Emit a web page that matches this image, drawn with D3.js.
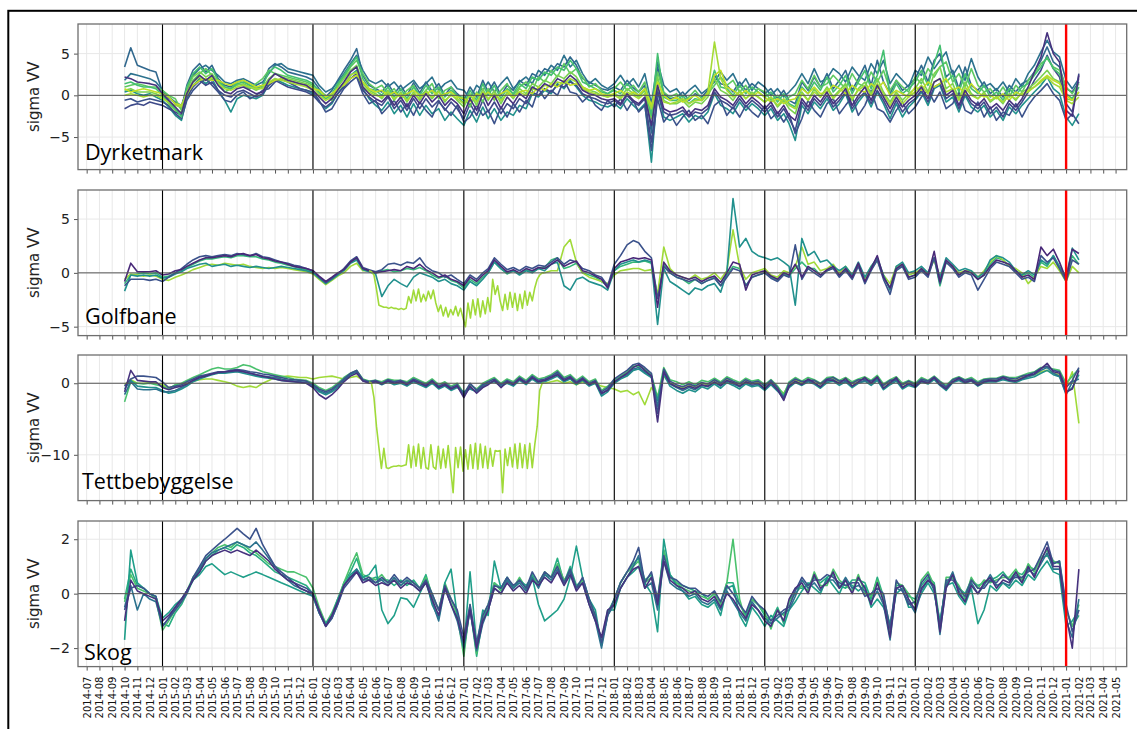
<!DOCTYPE html>
<html><head><meta charset="utf-8">
<script src="https://cdn.jsdelivr.net/npm/d3@7"></script>
<style>body{margin:0;background:#fff}svg{display:block}</style>
</head><body>
<svg id="chart" width="1137" height="729"></svg>
<script>
// ---------- DATA ----------
// sample dates: 1st and 16th of each month, 2014-10-01 .. 2021-02-01 (153 samples)
const sampleDates = [];
d3.utcMonth.range(new Date(Date.UTC(2014,9,1)), new Date(Date.UTC(2021,1,1))).forEach(m => {
  sampleDates.push(m, d3.utcDay.offset(m, 15));
});
sampleDates.push(new Date(Date.UTC(2021,1,1)));

const panelNames = ["Dyrketmark","Golfbane","Tettbebyggelse","Skog"];
const yTickValues = [[-5,0,5],[-5,0,5],[-10,0],[-2,0,2]];
const yDomains = [[-8.9,8.55],[-5.83,7.7],[-16.4,3.95],[-2.68,2.67]];
const yearLineDates = ["2015-01-01","2016-01-01","2017-01-01","2018-01-01","2019-01-01","2020-01-01"];
const redLineDate = "2021-01-01";

// Dyrketmark
const dyrA = [3.4,5.7,3.6,3.3,3.0,2.8,
 0.4,-0.3,-1.0,-1.6,1.2,3.0,3.8,2.8,3.6,2.0,1.2,1.0,1.6,1.8,1.2,0.8,1.2,3.2,3.8,3.4,2.8,2.6,2.4,2.2,
 1.8,0.8,-0.2,0.6,1.8,3.0,4.2,5.6,2.4,1.2,0.8,0.4,1.4,0.2,1.2,0.0,1.5,0.3,1.6,0.5,1.4,0.0,1.0,0.2,
 -0.6,1.0,-0.2,1.8,0.4,1.6,0.0,1.2,0.6,1.8,1.2,2.6,2.2,3.2,2.8,3.8,3.4,4.6,3.6,2.0,1.6,1.2,0.8,0.6,
 1.0,0.6,1.8,0.9,0.4,1.2,-4.5,3.4,0.2,-0.4,-0.2,0.4,-0.6,0.2,-0.2,0.6,2.4,1.4,1.2,0.4,1.6,0.6,1.4,0.8,
 0.2,0.8,-0.4,0.6,-0.6,-1.0,1.6,0.6,2.2,1.0,2.6,0.8,1.8,3.0,0.6,2.0,3.6,1.2,4.2,1.6,0.2,1.8,0.6,1.2,
 2.0,3.6,1.6,4.2,5.0,2.2,3.0,0.8,3.4,1.2,0.6,1.6,0.2,0.8,-0.2,1.2,0.4,1.4,1.8,2.8,4.2,5.8,4.0,3.4,
 0.8,0.4,1.6];
const dyrB = [2.2,2.0,1.6,1.5,1.4,1.2,
 0.2,-0.6,-1.4,-2.2,0.2,1.6,2.4,1.8,2.4,1.2,0.4,0.2,0.8,1.0,0.6,0.2,0.4,1.8,2.6,2.2,1.8,1.6,1.4,1.2,
 0.6,-0.2,-1.0,-0.4,0.6,1.6,2.8,3.4,1.0,0.2,-0.4,-0.8,0.0,-1.2,-0.2,-1.4,0.0,-1.0,0.2,-0.8,0.0,-1.2,-0.4,-1.0,
 -2.2,-0.4,-1.8,0.2,-1.2,0.0,-1.6,-0.2,-1.0,0.2,-0.4,1.0,0.6,1.4,1.0,2.0,1.6,2.4,1.8,0.6,0.2,0.0,-0.4,-0.6,
 -0.4,-1.0,0.2,-0.6,-1.0,-0.2,-3.6,1.2,-1.6,-2.0,-1.8,-1.4,-2.4,-1.6,-1.8,-1.2,0.8,-0.2,-0.6,-1.2,0.0,-1.0,-0.2,-0.8,
 -1.6,-0.8,-2.2,-1.2,-2.4,-3.0,-0.4,-1.4,0.0,-0.8,0.4,-1.0,-0.2,0.8,-1.2,0.0,1.0,-0.6,1.2,-0.2,-1.6,-0.2,-1.4,-0.6,
 0.0,1.0,-0.4,1.6,2.0,0.0,0.6,-1.2,0.6,-0.6,-1.2,-0.4,-1.6,-1.0,-1.8,-0.6,-1.4,-0.4,1.0,2.8,4.6,7.5,5.0,4.0,
 -1.8,-2.5,2.4];
const dyrC = [0.4,0.6,0.2,0.0,0.2,-0.2,
 -0.6,-1.4,-2.4,-3.0,-0.4,1.2,2.0,1.4,2.0,0.6,-0.6,-2.0,-0.4,0.0,-0.2,-0.4,0.0,1.4,2.0,1.6,1.2,1.0,0.8,0.6,
 0.2,-0.8,-1.6,-1.0,0.2,1.2,2.4,3.0,0.8,-0.4,-1.2,-1.8,-0.8,-2.2,-1.2,-2.6,-1.0,-2.4,-1.2,-2.2,-1.6,-3.0,-2.0,-2.8,
 -3.6,-1.8,-3.2,-1.4,-2.8,-1.6,-3.0,-2.0,-2.4,-1.2,-1.6,0.2,-0.2,0.6,0.2,1.4,0.8,1.8,1.0,0.0,-0.6,-0.8,-1.2,-1.4,
 -1.0,-1.6,-0.4,-1.2,-1.8,-1.0,-8.0,0.6,-2.6,-3.0,-2.6,-2.2,-3.2,-2.4,-2.8,-2.0,0.2,-1.2,-1.6,-2.2,-0.8,-1.8,-1.0,-1.6,
 -2.4,-1.6,-3.0,-2.2,-3.4,-5.4,-1.2,-2.2,-0.8,-1.6,-0.4,-1.8,-1.0,0.2,-2.0,-0.8,0.2,-1.4,0.4,-1.0,-2.8,-1.0,-2.6,-1.4,
 -0.6,0.4,-1.2,0.8,1.2,-0.8,-0.2,-2.0,0.0,-1.4,-2.0,-1.2,-2.6,-1.8,-3.0,-1.4,-2.2,-1.2,-0.4,0.4,1.2,2.2,0.8,0.2,
 -2.6,-3.6,-2.2];
const dyrD = [1.4,1.6,1.2,1.0,1.0,0.8,
 0.0,-0.8,-1.6,-2.6,1.0,2.6,3.4,2.6,3.2,1.8,1.0,0.8,1.4,1.6,1.2,0.9,1.2,2.8,3.4,3.0,2.4,2.2,2.0,1.8,
 1.4,0.4,-0.4,0.2,1.4,2.4,3.6,4.6,2.0,0.8,0.6,0.0,1.0,-0.2,0.8,-0.4,1.0,0.0,1.2,0.2,1.0,-0.2,0.6,0.0,
 -1.0,0.6,-0.6,1.4,0.0,1.2,-0.4,0.8,0.2,1.4,0.8,2.2,1.8,2.8,2.4,3.4,3.0,4.2,3.2,1.6,1.2,0.8,0.4,0.2,
 0.6,0.2,1.4,0.6,0.0,0.8,-2.4,5.0,-0.2,-0.6,-0.6,0.0,-1.0,-0.4,-0.6,0.2,3.0,1.0,0.8,0.0,1.2,0.2,1.0,0.4,
 -0.2,0.4,-0.8,0.2,-1.0,-1.4,1.0,0.2,1.6,0.6,2.2,0.4,1.2,2.4,0.2,1.6,3.0,0.8,2.4,5.4,-0.2,1.4,0.2,0.8,
 1.6,3.0,1.2,3.8,6.0,1.6,2.4,0.4,2.6,0.8,0.2,1.2,-0.2,0.4,-0.6,0.8,0.0,1.0,1.4,2.4,3.4,4.6,3.2,2.6,
 0.2,-0.4,1.0];
const dyrE = [0.0,0.2,0.0,-0.2,0.0,0.0,
 -0.4,-0.8,-1.2,-1.4,0.4,1.6,2.2,1.8,2.2,1.4,0.8,0.6,1.0,1.2,1.0,0.8,0.8,1.6,2.0,1.8,1.6,1.4,1.2,1.0,
 0.6,0.0,-0.6,-0.2,0.6,1.4,2.4,2.8,1.0,0.4,0.0,-0.2,0.4,-0.4,0.2,-0.6,0.2,-0.4,0.4,-0.2,0.4,-0.6,0.0,-0.4,
 -1.0,0.0,-0.8,0.4,-0.4,0.2,-0.6,0.2,-0.2,0.4,0.0,0.8,0.6,1.2,1.0,1.6,1.4,2.0,1.6,0.8,0.4,0.2,0.0,-0.2,
 0.0,-0.4,0.4,0.0,-0.4,0.2,-1.6,1.0,-0.8,-1.0,-0.8,-0.4,-1.0,-0.6,-0.6,0.4,6.4,2.0,0.6,-0.2,0.4,-0.4,0.2,-0.2,
 -0.8,-0.2,-1.2,-0.4,-1.2,-1.6,0.2,-0.6,0.4,-0.2,0.8,-0.4,0.4,1.0,-0.4,0.6,1.2,0.0,1.4,0.2,-1.2,0.2,-1.0,-0.2,
 0.4,1.2,0.2,1.6,2.0,0.4,0.8,-0.6,1.0,0.0,-0.4,0.2,-0.6,-0.2,-0.8,0.0,-0.4,0.2,0.4,1.0,1.6,2.2,1.4,1.0,
 -0.6,-1.0,-0.2];
const dyrF = [-1.6,-1.2,-1.0,-1.2,-0.8,-1.0,
 -1.2,-1.6,-2.0,-2.4,-0.2,1.0,1.8,1.2,1.6,0.6,0.0,-0.2,0.4,0.6,0.2,-0.2,0.2,1.2,1.8,1.4,1.0,0.8,0.6,0.4,
 0.0,-0.8,-1.4,-0.8,0.2,1.0,2.0,2.6,0.6,-0.2,-0.8,-1.2,-0.2,-1.6,-0.6,-1.8,-0.4,-1.6,-0.4,-1.4,-0.6,-1.8,-0.8,-1.6,
 -2.8,-1.0,-2.4,-0.6,-2.0,-0.8,-2.2,-1.0,-1.6,-0.4,-1.0,0.4,0.0,0.8,0.4,1.2,1.0,1.6,1.2,0.2,-0.2,-0.4,-0.8,-1.0,
 -0.6,-1.2,0.0,-0.8,-1.2,-0.4,-5.6,0.4,-2.0,-2.4,-2.2,-1.8,-2.6,-2.0,-2.2,-1.6,0.4,-0.6,-1.0,-1.6,-0.4,-1.4,-0.6,-1.2,
 -2.0,-1.2,-2.6,-1.6,-2.8,-4.2,-0.8,-1.8,-0.4,-1.2,0.0,-1.4,-0.6,0.4,-1.6,-0.4,0.4,-1.0,0.6,-0.6,-2.2,-0.6,-2.0,-1.0,
 -0.4,0.6,-0.8,1.0,1.4,-0.4,0.2,-1.6,0.2,-1.0,-1.6,-0.8,-2.2,-1.4,-2.6,-1.0,-1.8,-0.8,0.4,1.8,3.0,4.8,3.2,2.2,
 -1.0,-2.0,2.6];
const dyrG = [0.6,0.8,0.4,0.4,0.4,0.2,
 -0.2,-1.0,-1.8,-2.0,0.8,2.2,2.8,2.2,2.6,1.6,1.0,0.8,1.2,1.4,1.0,0.6,1.0,2.0,2.6,2.2,2.0,1.8,1.6,1.4,
 1.0,0.2,-0.4,0.0,1.0,2.0,3.0,3.6,1.4,0.6,0.2,-0.4,0.6,-0.6,0.4,-0.8,0.4,-0.6,0.6,-0.4,0.6,-0.8,0.2,-0.6,
 -1.4,0.2,-1.2,0.8,-0.6,0.6,-1.0,0.4,-0.4,0.8,0.2,1.4,1.0,1.8,1.4,2.4,2.0,2.8,2.2,1.0,0.6,0.4,0.0,-0.2,
 0.2,-0.2,0.8,0.2,-0.2,0.6,-2.8,2.2,-0.6,-1.0,-1.0,-0.6,-1.4,-0.8,-1.0,-0.2,2.0,0.6,0.2,-0.6,0.6,-0.4,0.4,-0.2,
 -0.8,-0.2,-1.4,-0.6,-1.6,-2.2,0.4,-0.6,0.8,-0.2,1.0,-0.2,0.6,1.4,-0.6,0.8,1.6,0.2,2.0,0.4,-0.8,0.4,-0.6,0.2,
 0.8,2.0,0.4,2.6,3.4,0.8,1.4,-0.4,1.6,0.2,-0.4,0.4,-0.8,-0.2,-1.0,0.2,-0.6,0.4,0.8,1.4,2.2,3.0,2.0,1.6,
 -0.4,-0.6,0.4];
const dyrH = [1.8,2.6,2.4,2.2,2.0,1.6,
 0.6,-0.2,-0.8,-1.2,0.6,2.4,3.2,3.6,3.0,2.4,1.6,1.4,1.8,2.0,1.6,1.2,1.6,2.6,3.6,3.8,3.2,3.0,2.8,2.6,
 2.4,1.2,0.4,0.8,1.6,2.6,3.8,4.8,3.0,1.8,1.4,1.8,1.0,1.6,0.6,1.2,1.8,0.8,1.4,2.2,0.6,1.4,1.8,0.8,
 0.6,-0.4,1.2,0.6,1.6,0.4,1.4,2.2,0.8,1.6,2.2,1.4,3.0,2.4,3.6,3.0,4.8,3.4,4.2,2.6,1.4,2.0,1.2,0.8,
 1.4,2.4,1.2,2.0,1.0,2.6,-1.0,4.0,1.2,0.4,0.8,-0.2,0.6,1.2,0.2,0.8,1.6,2.8,1.8,2.6,1.0,2.0,0.6,1.6,
 1.0,0.0,0.8,-0.2,0.4,1.2,2.6,1.4,3.2,1.6,2.0,3.2,2.6,1.6,3.4,2.4,1.8,3.8,2.6,4.2,1.4,2.6,1.8,1.0,
 3.0,2.4,4.6,3.2,4.2,5.2,2.4,3.6,1.8,4.4,2.2,1.0,1.4,0.6,1.6,0.4,2.0,1.0,2.6,3.6,5.2,6.6,5.2,4.6,
 1.8,0.8,2.0];
const dyrI = [-0.6,-0.4,-0.8,-0.6,-0.4,-0.6,
 -0.8,-1.2,-2.2,-2.8,-0.6,0.6,1.4,2.0,1.2,0.4,-0.6,-0.8,0.0,0.4,-0.4,0.0,0.6,0.8,1.6,2.0,1.6,1.2,0.8,0.6,
 0.4,-0.6,-2.0,-1.6,-0.4,0.8,1.6,2.2,0.2,-1.0,-0.6,-2.2,-1.4,-0.6,-2.0,-1.0,-2.4,-0.8,-1.8,-2.6,-0.8,-1.6,-2.4,-1.2,
 -3.2,-2.6,-1.2,-2.4,-1.8,-3.4,-1.4,-2.6,-1.0,-2.0,-0.6,-1.4,0.8,-0.4,0.6,0.0,1.8,0.4,0.2,-0.8,0.0,-1.2,-1.8,-0.6,
 -1.4,-0.4,-1.8,-0.6,-2.0,-1.2,-6.6,-0.4,-3.2,-2.2,-3.6,-2.6,-1.8,-3.0,-2.4,-3.4,-1.2,-0.6,-2.4,-1.4,-2.6,-1.2,-2.0,-2.6,
 -1.2,-2.8,-2.0,-3.2,-2.2,-4.6,-2.8,-0.6,-1.8,-2.6,-1.0,-0.4,-2.2,-1.2,-0.2,-2.4,-1.2,0.6,-1.6,-2.0,-3.2,-1.8,-0.8,-2.2,
 -1.4,-0.2,0.6,-0.8,0.4,-1.6,-1.0,0.4,-1.8,-2.2,-0.8,-2.6,-1.4,-3.0,-2.0,-2.4,-1.0,-2.6,-1.2,-0.2,0.6,1.4,0.2,-0.6,
 -3.0,-2.2,-3.4];
const dyrJ = [0.8,0.4,0.6,0.8,0.6,0.4,
 0.2,-0.2,-1.0,-1.2,0.2,1.2,1.8,2.0,1.8,1.8,1.4,1.2,1.6,1.8,1.4,1.0,1.2,1.4,1.8,2.0,1.8,1.6,1.4,1.2,
 0.8,0.6,-0.2,0.2,0.8,1.2,2.0,2.4,1.6,0.8,0.4,0.6,0.0,0.4,-0.2,0.2,0.6,0.0,0.2,0.6,-0.2,0.2,0.4,-0.2,
 -0.4,-0.8,0.2,-0.2,0.4,-0.4,0.2,0.6,-0.2,0.4,0.6,0.2,1.0,0.6,1.4,1.0,1.8,1.2,1.4,1.0,0.6,0.8,0.2,0.0,
 0.2,0.6,0.0,0.4,0.0,0.8,-1.2,1.6,0.0,-0.6,-0.2,-0.8,-0.4,0.0,-0.6,0.2,2.4,3.0,1.0,0.6,0.0,0.6,-0.2,0.4,
 -0.2,-0.8,-0.4,-1.0,-0.6,-0.4,0.8,0.2,1.0,0.2,0.4,1.2,0.8,0.2,1.2,0.6,0.4,1.4,0.8,1.6,0.0,0.6,0.2,-0.2,
 1.0,0.6,1.6,1.0,1.4,2.0,0.6,1.0,0.2,1.4,0.4,-0.2,0.0,-0.4,0.2,-0.6,0.4,0.0,0.6,1.0,1.8,2.4,1.8,1.4,
 0.0,-0.6,0.4];
const dyrK = [1.0,1.2,1.4,1.2,1.0,1.0,
 0.6,0.0,-0.4,-1.8,0.0,1.8,2.6,3.2,2.4,1.6,0.4,0.8,1.4,1.2,0.8,1.4,2.0,3.0,2.6,2.4,2.2,2.0,1.8,1.6,
 1.2,0.6,0.0,-0.6,1.2,2.2,3.4,4.2,2.6,1.4,0.8,1.2,0.2,0.8,-0.4,0.6,1.2,-0.2,0.6,1.4,-0.4,0.6,1.0,-0.2,
 -0.2,-1.4,0.4,-0.8,0.8,-0.6,0.6,1.4,0.0,1.0,1.6,0.6,2.2,1.6,3.0,2.2,3.8,2.6,3.2,2.2,1.0,1.4,0.6,0.2,
 0.8,1.6,0.6,1.2,0.4,1.6,-1.8,2.8,0.4,-0.2,0.2,-0.6,-0.2,0.6,-0.4,0.2,1.2,2.2,1.2,1.8,0.4,1.2,0.0,0.8,
 0.4,-0.6,0.0,-0.8,-0.2,0.2,1.8,0.8,2.4,1.0,1.4,2.4,1.6,0.8,2.6,1.4,1.0,2.8,1.6,3.0,0.6,1.8,1.0,0.4,
 2.2,1.4,3.2,2.2,3.4,4.0,1.6,2.6,1.0,3.2,1.2,0.4,0.8,-0.2,1.0,-0.2,1.2,0.4,1.8,2.6,3.8,4.4,3.4,3.0,
 1.0,0.2,1.4];

// Golfbane
const golfA = [-0.8,0.9,0.1,0.1,0.1,0.2,
 -0.2,-0.1,0.2,0.3,0.6,0.9,1.2,1.4,1.4,1.5,1.6,1.5,1.7,1.8,1.6,1.7,1.4,1.3,1.1,1.0,0.8,0.6,0.5,0.4,
 0.2,-0.3,-0.8,-0.4,0.0,0.3,1.0,1.4,0.4,0.2,0.0,0.1,0.2,0.3,0.2,0.6,0.4,0.8,0.3,0.0,-0.4,-0.2,-0.6,-0.8,
 -1.2,-0.4,-0.8,-0.2,0.2,1.2,0.6,0.1,0.3,0.0,0.4,0.2,0.5,0.4,0.8,1.2,0.6,0.9,1.1,0.2,0.0,-0.3,-0.6,-1.4,
 0.4,1.0,1.2,1.4,1.3,1.4,1.2,-3.2,1.0,0.2,-0.2,-0.4,-0.6,-0.4,-0.8,-0.5,-0.3,-0.9,0.0,1.0,0.8,-1.6,-0.2,0.0,
 0.2,-0.3,-0.6,0.0,-0.2,0.8,-0.4,0.6,0.2,-0.2,0.3,0.6,-0.2,0.4,-0.4,0.9,-0.8,0.4,1.6,-0.4,-1.4,0.4,0.8,-0.4,
 -0.2,0.4,-0.2,2.0,-0.8,1.2,0.6,-0.2,0.2,0.0,-0.6,-0.2,0.6,1.2,1.0,0.8,0.2,-0.4,-0.2,-0.6,2.4,1.6,2.2,1.0,
 -0.6,2.2,1.8];
const golfB = [-1.2,-0.6,-0.6,-0.6,-0.7,-0.6,
 -0.8,-0.4,0.0,0.4,0.8,1.2,1.5,1.6,1.5,1.6,1.7,1.6,1.8,1.7,1.6,1.8,1.5,1.4,1.2,1.0,0.9,0.7,0.6,0.4,
 0.2,-0.4,-0.9,-0.5,-0.1,0.4,1.1,1.5,0.5,0.3,0.1,0.3,0.8,0.9,0.7,1.0,0.9,1.4,0.6,0.2,0.0,-0.4,-0.2,-0.6,
 -1.0,-0.2,-0.6,0.0,0.4,1.4,0.8,0.3,0.5,0.2,0.6,0.4,0.7,0.6,1.0,1.4,0.8,1.2,1.0,0.4,0.2,-0.2,-0.4,-1.2,
 0.8,1.6,2.6,3.0,2.8,2.0,1.4,-2.4,0.6,0.0,-0.4,-0.6,-0.8,-0.6,-1.0,-0.7,-0.5,-1.2,-0.4,0.4,0.2,-1.2,-0.4,-0.2,
 0.0,-0.5,-0.8,-0.2,-0.4,2.6,-0.6,0.4,0.0,-0.4,0.2,0.4,-0.4,0.2,-0.6,0.6,-1.0,0.2,1.2,-0.6,-2.0,0.2,0.6,-0.6,
 -0.4,0.2,-0.4,1.4,-1.0,1.0,0.4,-0.4,0.0,-0.2,-1.6,-0.6,0.4,1.0,0.8,0.6,0.0,-0.6,-0.4,-0.8,1.6,1.0,1.4,0.4,
 -0.8,1.2,0.8];
const golfC = [-1.7,-0.2,-0.3,-0.2,-0.3,-0.2,
 -0.5,-0.4,-0.1,0.1,0.4,0.6,0.8,0.9,0.6,0.7,0.8,0.6,0.7,0.6,0.5,0.6,0.5,0.4,0.5,0.6,0.5,0.4,0.3,0.2,
 0.0,-0.5,-1.0,-0.6,-0.2,0.2,0.9,1.2,0.3,0.1,-0.1,-2.2,-1.2,-0.6,-1.0,-1.3,-0.4,0.0,-0.2,-0.4,-0.8,-0.6,-1.0,-1.2,
 -1.6,-0.8,-1.2,-0.6,0.0,1.0,0.4,0.0,0.2,-0.2,0.2,0.0,0.4,0.2,0.8,1.0,-1.2,-1.6,-0.6,-0.4,-0.8,-1.0,-1.2,-1.6,
 0.2,0.8,1.0,1.2,1.0,1.2,1.0,-4.8,0.4,-0.8,-1.2,-1.6,-2.0,-1.4,-1.6,-1.2,-1.0,-1.8,0.0,6.9,2.4,3.2,2.0,1.6,
 1.4,1.2,1.4,1.0,0.6,-3.0,3.2,1.6,2.0,1.0,1.2,0.6,0.2,0.6,-0.2,1.0,-0.4,0.6,1.4,-0.2,-1.6,0.6,1.0,0.0,
 0.2,0.6,0.0,1.4,-0.4,1.4,0.8,0.2,0.4,0.2,-0.4,0.0,1.2,1.6,1.4,1.0,0.2,-0.2,0.2,-0.2,1.2,0.8,1.6,0.6,
 -0.4,2.3,1.2];
const golfD = [-0.6,-0.1,-0.2,-0.3,-0.2,-0.3,
 -0.6,-0.7,-0.4,-0.2,0.0,0.3,0.5,0.7,0.8,0.7,0.9,0.8,0.7,0.8,0.6,0.5,0.4,0.5,0.4,0.5,0.4,0.3,0.2,0.1,
 -0.1,-0.6,-1.1,-0.7,-0.3,0.0,0.6,0.9,0.2,0.2,null,null,null,null,null,null,null,null,null,null,null,null,null,null,
 null,null,null,null,null,null,null,null,null,null,null,null,null,0.0,0.2,0.2,2.4,3.1,1.0,0.0,-0.4,-0.6,-0.8,-1.0,
 -0.2,0.2,0.3,0.4,0.4,0.2,0.3,-2.0,2.4,0.4,-0.2,-0.4,-0.6,-0.2,-0.6,-0.4,0.0,-0.6,0.2,4.0,0.6,-0.6,0.0,0.2,
 0.4,-0.2,-0.4,0.2,0.0,0.6,2.4,0.8,1.0,0.2,0.4,0.8,0.0,0.6,-0.2,0.8,-0.6,0.6,1.2,-0.2,-1.0,0.6,0.8,-0.2,
 0.0,0.4,0.0,1.2,-0.4,1.0,0.6,0.0,0.2,0.2,-0.4,0.2,1.0,1.6,1.2,0.6,0.4,0.0,-1.0,-0.4,0.6,0.4,1.0,0.2,
 -0.8,0.6,0.0];
const golfE = [-1.0,-0.2,-0.1,0.0,-0.1,0.0,
 -0.4,-0.3,0.0,0.2,0.5,0.8,1.1,1.3,1.3,1.4,1.5,1.4,1.6,1.6,1.5,1.5,1.3,1.2,1.0,0.9,0.7,0.6,0.4,0.3,
 0.1,-0.4,-0.9,-0.5,-0.1,0.3,1.0,1.3,0.3,0.2,0.0,0.2,0.3,0.1,0.2,0.4,0.3,0.5,0.2,-0.2,-0.5,-0.3,-0.7,-0.9,
 -1.4,-0.6,-1.0,-0.4,0.0,1.0,0.4,-0.1,0.2,-0.1,0.3,0.1,0.4,0.5,1.2,1.4,0.4,0.6,0.9,0.0,-0.2,-0.4,-0.8,-1.2,
 0.2,0.6,0.8,1.0,1.0,1.1,0.9,-2.2,0.8,0.0,-0.4,-0.6,-1.0,-0.6,-1.0,-0.7,-0.4,-1.2,-0.2,0.6,0.4,-1.2,-0.4,-0.2,
 0.0,-0.4,-0.7,-0.1,-0.3,0.4,1.0,0.4,0.4,-0.2,0.2,0.5,-0.3,0.3,-0.5,0.8,-0.8,0.3,1.2,-0.4,-1.4,0.4,0.6,-0.4,
 -0.2,0.3,-0.2,1.4,-1.2,1.0,0.5,-0.2,0.1,0.0,-0.6,-0.2,0.8,1.4,1.2,0.6,0.2,-0.3,0.0,-0.4,1.0,0.6,1.6,0.4,
 -0.4,1.6,0.8];
// dense (6-day) samples of the outlier parcels, 2016-05-16 .. 2017-07-16
const golfDipValues = [0.2,0.1,-0.2,-1.5,-3.0,-3.1,-3.2,-3.2,-3.3,-3.2,-3.3,-3.3,-3.4,-3.3,-3.4,-3.3,
 -2.2,-2.8,-1.6,-2.6,-1.5,-2.7,-2.0,-2.6,-1.7,-2.4,-1.6,-2.8,-3.6,-3.0,-4.0,-3.2,-4.1,-3.4,-3.9,-3.1,-4.0,-3.3,-4.2,
 -5.0,-2.8,-4.2,-2.5,-3.9,-2.4,-4.1,-2.6,-3.8,-2.3,-3.6,-0.6,-2.0,-1.2,-2.6,-3.5,-2.0,-3.4,-1.8,-3.2,-1.9,-3.5,-2.0,
 -3.3,-1.7,-3.0,-1.8,-2.6,-1.4,-0.6,-0.2,0.0,0.0];

// Tettbebyggelse
const tettA = [-1.2,1.8,0.4,0.3,0.2,0.2,
 -0.6,-0.9,-0.6,-0.4,-0.1,0.4,0.8,1.0,1.3,1.5,1.6,1.7,1.8,1.6,1.4,1.2,1.0,0.8,0.6,0.4,0.3,0.2,0.1,0.0,
 -0.6,-1.6,-2.2,-1.6,-0.8,0.2,1.0,1.4,0.3,0.0,0.2,-0.1,0.3,0.0,0.2,-0.2,0.4,0.0,-0.4,0.3,-0.6,-0.2,-0.8,-0.4,
 -2.0,-0.4,-1.4,-0.6,-0.2,0.4,-0.6,0.2,-0.2,0.6,0.0,0.8,0.2,0.4,0.8,1.2,0.4,0.8,0.0,0.6,-0.2,0.2,-1.4,-1.0,
 0.2,0.8,1.4,2.2,2.6,1.8,1.0,-5.4,1.6,0.0,-0.5,-0.8,-0.4,-0.7,-0.2,-0.4,0.2,-0.3,0.4,0.1,-0.4,0.2,-0.1,0.0,
 -0.8,0.1,-0.9,-2.4,-0.4,0.3,-0.2,0.6,0.1,-0.5,0.5,0.4,0.0,0.7,-0.4,0.2,0.8,0.0,0.9,-0.7,0.1,0.8,-0.6,0.0,
 -0.5,0.3,0.0,0.8,-0.2,-0.8,0.2,0.7,0.1,0.4,-0.3,0.2,0.4,0.3,0.8,0.4,0.3,0.7,1.1,1.3,2.0,2.8,1.6,1.4,
 -1.2,-0.8,1.8];
const tettB = [-0.4,0.6,1.0,1.0,0.9,0.8,
 0.2,-0.6,-0.4,-0.2,0.2,0.6,1.0,1.2,1.4,1.6,1.6,1.8,1.9,1.8,1.6,1.5,1.3,1.2,1.0,0.8,0.6,0.5,0.4,0.3,
 -0.2,-0.8,-1.2,-0.8,-0.2,0.6,1.4,1.8,0.5,0.2,0.4,0.0,0.5,0.2,0.4,0.0,0.6,0.2,-0.2,0.4,-0.4,0.0,-0.6,-0.2,
 -1.6,0.0,-1.0,-0.2,0.2,0.6,-0.2,0.4,0.0,0.8,0.2,1.0,0.4,0.6,1.0,1.6,0.6,1.0,0.2,0.8,0.0,0.4,-1.2,-0.6,
 0.6,1.2,1.8,2.6,2.8,2.2,1.4,-4.2,2.0,0.3,-0.2,-0.5,-0.1,-0.4,0.1,-0.1,0.5,0.0,0.7,0.3,-0.1,0.5,0.1,0.3,
 -0.4,0.4,-0.6,-2.1,0.0,0.6,0.2,0.4,0.4,-0.1,0.6,0.8,0.3,0.4,0.0,0.5,0.5,0.3,0.8,-0.3,0.4,0.5,-0.2,0.3,
 -0.2,0.6,0.3,0.9,0.2,-0.5,0.5,0.8,0.4,0.6,0.0,0.5,0.6,0.6,0.9,0.7,0.6,1.0,1.2,1.5,2.1,2.4,1.8,1.6,
 -0.6,0.4,2.2];
const tettC = [-0.8,0.4,-0.4,-0.5,-0.6,-0.6,
 -1.0,-1.4,-1.2,-0.8,-0.4,0.2,0.6,0.9,1.2,1.4,1.4,1.5,1.6,1.4,1.2,1.0,0.8,0.7,0.6,0.4,0.3,0.2,0.1,0.0,
 -0.4,-1.2,-1.6,-1.2,-0.6,0.4,1.2,1.6,0.4,0.1,0.2,-0.2,0.2,-0.2,0.0,-0.4,0.2,-0.2,-0.6,0.0,-0.8,-0.4,-1.0,-0.6,
 -1.2,-0.8,-1.2,-0.4,0.0,0.2,-0.4,0.0,-0.4,0.4,-0.2,0.6,0.0,0.2,0.6,1.0,0.2,0.6,-0.2,0.4,-0.4,0.0,-1.8,-1.2,
 0.0,0.6,1.0,1.8,2.0,1.4,0.8,-2.4,1.2,-0.4,-1.0,-1.4,-0.9,-1.2,-0.5,-0.8,-0.1,-0.7,0.1,-0.3,-0.8,-0.1,-0.5,-0.3,
 -1.0,-0.2,-1.1,-1.8,-0.6,0.1,-0.3,0.2,-0.1,-0.7,0.1,0.3,-0.3,0.2,-0.6,0.0,0.3,-0.3,0.4,-0.9,-0.2,0.3,-0.8,-0.3,
 -0.6,0.2,-0.1,0.5,-0.3,-1.0,0.1,0.4,0.0,0.3,-0.4,0.1,0.2,0.2,0.5,0.3,0.1,0.5,0.7,0.9,1.4,1.8,1.2,0.9,
 -1.4,-0.6,1.2];
const tettD = [-2.6,0.2,0.0,-0.1,0.0,-0.2,
 -0.4,-0.8,-0.2,0.0,0.4,0.8,1.2,1.6,2.0,2.2,2.0,2.0,2.2,2.6,2.4,2.0,1.6,1.4,1.2,1.0,0.8,0.6,0.5,0.4,
 0.0,-0.6,-1.0,-0.6,0.0,0.8,1.4,1.8,0.6,0.3,0.4,0.2,0.6,0.4,0.4,0.2,0.8,0.4,0.0,0.6,-0.2,0.2,-0.4,0.0,
 -1.4,-0.2,-0.8,0.0,0.4,0.8,0.0,0.6,0.2,1.0,0.4,1.2,0.6,0.8,1.2,1.8,0.8,1.2,0.4,1.0,0.2,0.6,-1.0,-0.4,
 0.4,1.0,1.6,2.4,2.4,2.0,1.2,-2.0,2.2,0.5,0.2,-0.2,0.2,-0.2,0.4,0.2,0.7,0.2,0.9,0.5,0.1,0.7,0.3,0.5,
 -0.2,0.5,-0.4,-1.6,0.2,0.8,0.3,0.8,0.5,0.0,0.8,0.9,0.4,0.8,0.2,0.6,0.9,0.4,1.1,-0.1,0.5,0.9,0.0,0.4,
 0.0,0.8,0.4,1.0,0.3,-0.3,0.6,0.9,0.5,0.8,0.2,0.6,0.7,0.7,1.0,0.8,0.8,1.1,1.4,1.6,2.2,2.2,2.0,1.8,
 0.0,1.0,2.0];
const tettE = [-0.2,0.5,0.0,0.0,0.1,0.0,
 -0.2,-0.6,-0.4,-0.2,0.0,0.3,0.5,0.6,0.6,0.4,0.2,0.0,-0.4,-0.6,-0.4,-0.6,0.0,0.4,0.8,0.9,1.0,0.9,0.8,0.8,
 0.6,0.8,0.9,1.0,0.8,0.6,0.8,1.0,0.4,0.2,null,null,null,null,null,null,null,null,null,null,null,null,null,null,
 null,null,null,null,null,null,null,null,null,null,null,null,null,0.0,0.2,0.4,0.0,0.2,-0.2,0.2,-0.2,0.0,-0.4,-0.6,
 -0.8,-1.2,-1.0,-1.6,-1.2,-3.0,-0.6,-1.8,1.0,0.0,-0.3,-0.6,-0.2,-0.5,0.0,-0.2,0.4,-0.1,0.5,0.2,-0.3,0.3,0.0,0.1,
 -0.6,0.3,-0.7,-1.4,-0.2,0.5,0.0,0.5,0.3,-0.2,0.6,0.7,0.2,0.6,-0.1,0.4,0.7,0.2,1.0,-0.4,0.3,0.7,-0.3,0.2,
 -0.3,0.5,0.1,0.8,0.0,-0.6,0.3,0.6,0.2,0.5,-0.1,0.3,0.5,0.4,0.7,0.5,0.4,0.8,1.0,1.2,1.6,1.8,1.4,1.2,
 -0.6,1.6,-5.6];
const tettDipValues = [0.2,0.0,-2.0,-6.0,-9.0,-11.9,-9.1,-11.8,-11.9,-11.7,-11.6,-11.6,-11.5,-11.6,-11.5,-11.4,
 -8.6,-11.8,-8.8,-11.6,-8.5,-11.9,-9.0,-11.8,-12.0,-8.6,-11.7,-12.0,-8.8,-11.9,-9.2,-11.8,-8.7,-12.0,-15.3,-9.0,-11.8,-8.9,-12.3,
 -9.3,-12.0,-8.6,-11.9,-8.4,-12.0,-8.5,-11.8,-8.8,-11.9,-9.1,-11.6,-9.4,-9.5,-9.4,-15.3,-9.2,-11.5,-9.0,-11.7,-8.5,-11.9,-8.4,
 -11.8,-8.6,-11.9,-8.4,-11.8,-8.6,-6.0,-1.0,0.0,0.0];
const tettF = [-1.6,0.2,-0.8,-0.9,-0.9,-0.8,
 -1.2,-1.2,-1.0,-0.6,-0.2,0.4,0.8,1.1,1.3,1.5,1.5,1.6,1.7,1.6,1.4,1.2,1.0,0.9,0.8,0.6,0.4,0.3,0.2,0.1,
 -0.3,-1.0,-1.4,-1.0,-0.4,0.5,1.3,1.7,0.4,0.1,0.3,-0.1,0.4,0.0,0.2,-0.2,0.4,0.0,-0.4,0.2,-0.6,-0.2,-0.8,-0.4,
 -1.8,-0.6,-1.2,-0.4,0.0,0.4,-0.2,0.2,-0.2,0.6,0.0,0.8,0.2,0.4,0.8,1.4,0.4,0.8,0.0,0.6,-0.2,0.2,-1.6,-0.8,
 0.2,0.8,1.2,2.0,2.2,1.6,1.0,-3.2,1.6,-0.1,-0.6,-1.0,-0.6,-0.9,-0.3,-0.5,0.1,-0.4,0.3,-0.1,-0.5,0.1,-0.3,-0.1,
 -0.7,0.0,-1.0,-2.2,-0.4,0.2,-0.1,0.3,0.0,-0.5,0.3,0.5,-0.1,0.3,-0.4,0.1,0.4,-0.1,0.6,-0.7,0.0,0.5,-0.6,-0.1,
 -0.4,0.4,0.1,0.7,-0.1,-0.7,0.2,0.5,0.2,0.4,-0.2,0.3,0.3,0.4,0.6,0.5,0.3,0.6,0.9,1.2,1.8,2.2,1.4,1.0,
 -1.6,0.2,0.6];

// Skog
const skogA = [-1.0,0.5,0.1,0.0,-0.1,-0.2,
 -1.0,-0.8,-0.5,-0.2,0.1,0.5,0.8,1.2,1.4,1.5,1.6,1.5,1.6,1.5,1.4,1.6,1.4,1.2,0.9,0.7,0.5,0.4,0.2,0.1,
 0.0,-0.6,-1.2,-0.8,-0.3,0.3,0.6,0.8,0.4,0.5,0.3,0.4,0.3,0.5,0.2,0.4,0.3,0.1,0.4,-0.2,-0.8,0.2,-0.4,-0.9,
 -1.8,-0.6,-2.0,-1.0,-0.6,0.2,0.0,0.4,0.1,0.3,0.0,0.5,0.3,0.6,0.4,0.8,0.3,0.7,0.1,0.4,-0.4,-1.0,-1.6,-0.6,
 -0.4,0.2,0.6,0.9,1.0,0.2,0.6,-0.4,1.2,0.5,0.3,0.2,0.0,0.1,-0.2,-0.3,-0.1,-0.5,0.0,-0.2,-0.6,-0.9,-0.4,-0.6,
 -1.0,-1.2,-0.6,-1.0,-0.2,0.2,0.4,0.0,0.7,0.2,0.4,0.8,0.2,0.5,0.0,0.6,0.2,-0.4,0.4,-0.3,-1.6,0.2,0.3,-0.2,
 -0.6,0.2,0.5,0.3,-1.4,0.2,0.7,0.0,-0.3,0.3,0.0,0.4,0.6,0.2,0.5,0.4,0.8,0.4,1.0,0.6,1.2,1.7,1.0,1.0,
 -0.8,-2.0,0.9];
const skogB = [-0.6,0.2,0.3,0.2,0.0,-0.1,
 -1.2,-0.9,-0.6,-0.3,0.0,0.6,1.0,1.4,1.6,1.8,2.0,2.2,2.4,2.2,2.0,2.4,1.8,1.4,1.0,0.8,0.6,0.4,0.3,0.2,
 0.0,-0.7,-1.2,-0.9,-0.4,0.2,0.5,0.8,0.5,0.6,0.4,0.6,0.4,0.7,0.4,0.6,0.4,0.2,0.5,0.0,-0.6,0.3,-0.2,-0.6,
 -1.6,-0.4,-1.8,-0.8,-0.4,0.3,0.2,0.6,0.3,0.5,0.2,0.8,0.4,0.8,0.6,1.0,0.4,0.9,0.2,0.6,-0.2,-0.8,-1.8,-0.8,
 -0.2,0.4,0.8,1.2,1.7,0.4,0.8,-0.2,1.4,0.6,0.5,0.3,0.2,0.2,0.0,-0.1,0.1,-0.3,0.3,0.0,-0.4,-0.7,-0.1,-0.4,
 -0.6,-1.0,-0.8,-0.6,-0.5,0.1,0.6,0.3,0.5,0.5,0.7,0.6,0.4,0.3,0.4,0.4,-0.1,0.0,0.2,0.0,-1.3,0.5,0.1,-0.4,
 -0.3,0.4,0.7,0.1,-1.2,0.5,0.5,0.2,-0.1,0.5,0.2,0.2,0.5,0.4,0.7,0.5,0.6,0.6,0.8,0.9,1.4,1.9,1.1,1.2,
 -0.4,-1.4,-0.6];
const skogC = [-1.7,1.6,0.4,0.2,0.0,-0.1,
 -0.9,-0.7,-0.4,-0.2,0.1,0.5,0.7,1.0,1.1,0.9,0.7,0.8,0.7,0.6,0.7,0.8,0.7,0.6,0.5,0.4,0.3,0.2,0.1,0.0,
 -0.1,-0.7,-1.1,-0.8,-0.2,0.3,0.7,0.9,0.6,0.7,1.05,-0.6,-1.1,-0.8,-0.15,-0.2,-0.5,0.0,0.5,-0.4,-0.9,0.4,0.9,-0.8,
 -2.0,0.8,-1.9,-0.6,-0.8,1.2,0.2,0.6,0.2,0.5,0.3,0.6,-0.4,-1.0,-0.8,-0.6,-0.2,0.6,1.75,0.6,-0.2,-0.6,-1.9,-0.6,
 -0.6,0.2,0.6,0.8,1.0,0.4,0.0,-1.4,2.0,0.7,0.3,0.1,-0.2,-0.1,-0.4,-0.5,-0.3,-0.8,0.2,0.3,-0.8,-1.2,-0.5,-0.8,
 -1.2,-0.8,-1.0,-1.2,-0.6,-0.3,0.1,0.4,0.2,0.0,0.6,0.3,0.0,0.5,0.3,0.1,0.3,-0.5,-0.2,-0.5,-1.1,0.0,0.2,-0.5,
 -0.5,0.0,0.4,0.0,-1.0,0.3,0.4,-0.1,-0.4,0.2,-1.1,-0.6,0.3,0.1,0.4,0.2,0.5,0.3,0.7,0.5,0.9,1.2,0.8,0.7,
 -1.2,-1.0,-0.6];
const skogD = [-0.3,0.7,0.2,0.1,0.0,-0.2,
 -1.35,-1.0,-0.6,-0.3,0.1,0.6,0.9,1.3,1.5,1.7,1.8,1.7,1.9,1.8,1.6,1.5,1.3,1.1,1.0,0.9,0.8,0.8,0.7,0.6,
 0.2,-0.5,-1.1,-0.7,-0.2,0.4,1.0,1.5,0.7,0.6,0.5,0.7,0.4,0.5,0.3,0.5,0.4,0.2,0.6,0.0,-0.6,0.4,-0.2,-0.8,
 -2.3,-0.4,-2.2,-0.8,-0.4,0.4,0.1,0.5,0.2,0.6,0.2,0.6,0.4,0.8,0.6,1.1,0.5,0.8,0.2,0.5,-0.2,-0.8,-1.8,-0.8,
 -0.2,0.4,0.8,1.0,1.2,0.4,0.6,-0.2,1.6,0.6,0.4,0.2,0.1,0.0,-0.1,-0.2,0.0,-0.4,0.4,2.0,-0.2,-1.0,-0.2,-0.4,
 -0.7,-1.3,-0.6,-0.8,-0.3,0.0,0.3,0.1,0.8,0.3,0.3,0.9,0.5,0.3,0.1,0.7,0.0,-0.1,0.5,-0.2,-1.5,0.4,0.3,0.0,
 -0.4,0.5,0.8,0.3,-1.3,0.6,0.6,0.3,-0.2,0.6,0.2,0.5,0.4,0.5,0.6,0.6,0.9,0.5,1.1,0.8,1.3,1.6,1.2,1.1,
 -0.6,-1.2,-0.4];
const skogE = [-0.5,0.3,-0.6,0.0,-0.2,-0.3,
 -1.2,-0.9,-0.5,-0.2,0.1,0.5,0.9,1.3,1.5,1.6,1.7,1.8,1.9,1.8,1.7,1.9,1.6,1.3,1.0,0.7,0.5,0.3,0.2,0.1,
 -0.1,-0.7,-1.2,-0.9,-0.4,0.3,0.6,0.9,0.5,0.5,0.4,0.5,0.3,0.6,0.3,0.5,0.3,0.1,0.4,-0.3,-1.0,0.2,-0.4,-1.0,
 -2.0,-0.6,-2.1,-1.1,-0.6,0.2,0.0,0.5,0.2,0.4,0.1,0.6,0.2,0.7,0.5,0.9,0.4,0.8,0.2,0.4,-0.4,-1.0,-2.0,-0.8,
 -0.4,0.2,0.6,1.0,1.4,0.2,0.4,-0.6,1.2,0.4,0.2,0.1,-0.1,0.0,-0.3,-0.4,-0.2,-0.6,0.1,-0.3,-0.7,-1.0,-0.3,-0.6,
 -0.9,-1.1,-0.9,-0.7,-0.6,-0.1,0.5,0.2,0.4,0.1,0.5,0.5,0.2,0.6,0.2,0.3,0.1,-0.3,0.1,-0.4,-1.7,0.2,0.1,-0.3,
 -0.7,0.1,0.5,0.2,-1.5,0.3,0.8,0.1,-0.3,0.4,0.0,0.3,0.7,0.3,0.4,0.3,0.7,0.4,0.9,0.7,1.1,1.5,0.9,0.9,
 -1.0,-1.6,-0.2];
const skogF = [-0.2,0.9,0.3,0.2,0.0,-0.1,
 -1.1,-1.2,-0.7,-0.4,0.0,0.5,0.8,1.2,1.4,1.6,1.7,1.6,1.8,1.7,1.5,1.4,1.2,1.0,0.8,0.7,0.6,0.5,0.4,0.3,
 0.0,-0.6,-1.1,-0.8,-0.3,0.4,0.8,1.3,0.6,0.5,0.6,0.5,0.5,0.3,0.5,0.3,0.5,0.2,0.7,-0.1,-0.6,0.3,-0.2,-0.7,
 -2.1,-0.5,-2.3,-0.9,-0.5,0.4,0.2,0.6,0.2,0.5,0.2,0.7,0.3,0.7,0.6,1.3,0.4,1.0,0.3,0.5,-0.2,-0.9,-1.7,-0.7,
 -0.2,0.4,0.8,1.1,1.3,0.5,0.7,-0.4,1.6,0.7,0.4,0.3,0.2,0.1,0.0,-0.2,0.0,-0.3,0.4,0.4,-0.4,-0.8,-0.2,-0.4,
 -0.8,-1.0,-0.5,-1.1,-0.3,0.2,0.2,0.3,0.6,0.4,0.6,0.7,0.3,0.2,0.5,0.5,0.4,-0.2,0.6,-0.1,-1.2,0.3,0.3,-0.1,
 -0.2,0.3,0.6,0.4,-1.1,0.4,0.6,0.2,0.0,0.5,0.3,0.4,0.5,0.6,0.8,0.5,0.8,0.7,1.0,0.9,1.3,1.4,1.1,1.2,
 -0.6,-1.2,-0.8];

const panelSeries = [
  [dyrC, dyrI, dyrF, dyrA, dyrH, dyrK, dyrG, dyrD, dyrJ, dyrE, dyrB],
  [golfE, golfD, golfC, golfB, golfA],
  [tettE, tettD, tettC, tettF, tettB, tettA],
  [skogF, skogD, skogC, skogE, skogB, skogA]
];
const panelColors = [
  ["#21918c","#3b528b","#3e4a89","#31688e","#2c728e","#5ec962","#7ad151","#44bf70","#c0df25","#a5db36","#46327e"],
  ["#35b779","#a0da39","#21908d","#3b528b","#482878"],
  ["#a0da39","#4ac16d","#21918c","#2c728e","#3b528b","#46327e"],
  ["#28ae80","#4ac16d","#1f9e89","#2c728e","#3b528b","#46327e"]
];
const dipStart = "2016-05-16", dipStepDays = 6;
const panelExtras = [[], [{values: golfDipValues, color: "#a0da39"}], [{values: tettDipValues, color: "#a0da39"}], []];
const labelPos = [[85,159.5],[85,324],[82,488.5],[84,660]];

// ---------- DRAW ----------
const svg = d3.select("#chart");
const left = 78, right = 1126.7, panelTops = [24,190,355,521], panelH = 145.6;
const parse = d3.utcParse("%Y-%m-%d");
const x = d3.scaleUtc().domain([parse("2014-06-10"), parse("2021-05-28")]).range([left, right]);
const months = d3.utcMonth.range(parse("2014-07-01"), parse("2021-05-02"));
const fmt = d3.utcFormat("%Y-%m");
const dipDate = i => d3.utcDay.offset(parse(dipStart), dipStepDays * i);

svg.append("rect").attr("x",8.3).attr("y",10.8).attr("width",1400).attr("height",1000)
  .attr("fill","none").attr("stroke","#000").attr("stroke-width",2);

const bad = [];
panelSeries.forEach((ser, p) => {
  const top = panelTops[p], bottom = top + panelH;
  const y = d3.scaleLinear().domain(yDomains[p]).range([bottom, top]);
  const g = svg.append("g");
  g.selectAll(".vg").data(months).join("line")
    .attr("x1", d => x(d)).attr("x2", d => x(d)).attr("y1", top).attr("y2", bottom)
    .attr("stroke","#e8e8e8").attr("stroke-width",1);
  g.selectAll(".hg").data(yTickValues[p]).join("line")
    .attr("x1", left).attr("x2", right).attr("y1", d => y(d)).attr("y2", d => y(d))
    .attr("stroke","#e8e8e8").attr("stroke-width",1);
  const cid = "clip" + p;
  svg.append("clipPath").attr("id", cid).append("rect")
    .attr("x", left).attr("y", top).attr("width", right-left).attr("height", panelH);
  const lg = g.append("g").attr("clip-path", `url(#${cid})`);
  const line = d3.line().defined(d => d != null).x((d,i) => x(sampleDates[i])).y(d => y(d));
  ser.forEach((vals, i) => {
    if (vals.length !== sampleDates.length) bad.push(panelNames[p] + " series " + i + " length " + vals.length);
    lg.append("path").attr("d", line(vals.slice(0, sampleDates.length)))
      .attr("fill","none").attr("stroke", panelColors[p][i]).attr("stroke-width",1.6)
      .attr("stroke-linejoin","round");
  });
  const dline = d3.line().x((d,i) => x(dipDate(i))).y(d => y(d));
  panelExtras[p].forEach(ex => {
    lg.append("path").attr("d", dline(ex.values))
      .attr("fill","none").attr("stroke", ex.color).attr("stroke-width",1.6).attr("stroke-linejoin","round");
  });
  lg.append("line").attr("x1",left).attr("x2",right).attr("y1",y(0)).attr("y2",y(0))
    .attr("stroke","#555").attr("stroke-width",1);
  yearLineDates.forEach(d => {
    lg.append("line").attr("x1",x(parse(d))).attr("x2",x(parse(d))).attr("y1",top).attr("y2",bottom)
      .attr("stroke","#000").attr("stroke-width",1.1);
  });
  lg.append("line").attr("x1",x(parse(redLineDate))).attr("x2",x(parse(redLineDate))).attr("y1",top).attr("y2",bottom)
    .attr("stroke","#ff0000").attr("stroke-width",2.4);
  const xa = g.append("g").attr("transform",`translate(0,${bottom})`)
    .call(d3.axisBottom(x).tickValues(months).tickSize(4).tickPadding(6).tickFormat(p === 3 ? fmt : () => ""));
  xa.select(".domain").remove();
  xa.selectAll(".tick line").attr("stroke","#555");
  if (p === 3) {
    xa.selectAll("text").attr("transform","rotate(-90)").attr("text-anchor","end")
      .attr("x",-10).attr("y",0).attr("dy","0.35em")
      .attr("font-family","DejaVu Sans").attr("font-size",10).attr("fill","#111");
  }
  const ya = g.append("g").attr("transform",`translate(${left},0)`)
    .call(d3.axisLeft(y).tickValues(yTickValues[p]).tickSize(4).tickPadding(4).tickFormat(d3.format("d")));
  ya.select(".domain").remove();
  ya.selectAll(".tick line").attr("stroke","#555");
  ya.selectAll("text").attr("font-family","DejaVu Sans").attr("font-size",14).attr("fill","#222");
  g.append("rect").attr("x",left).attr("y",top).attr("width",right-left).attr("height",panelH)
    .attr("fill","none").attr("stroke","#6e6e6e").attr("stroke-width",1.3);
  g.append("text").attr("transform",`translate(34,${(top+bottom)/2}) rotate(-90)`)
    .attr("text-anchor","middle").attr("dy","0.35em")
    .attr("font-family","DejaVu Sans").attr("font-size",15).attr("fill","#222").text("sigma VV");
  g.append("text").attr("x",labelPos[p][0]).attr("y",labelPos[p][1])
    .attr("font-family","Open Sans").attr("font-size",21.5).attr("fill","#000").text(panelNames[p]);
});
if (bad.length) throw new Error("Length mismatch: " + bad.join("; "));
</script>
</body></html>
